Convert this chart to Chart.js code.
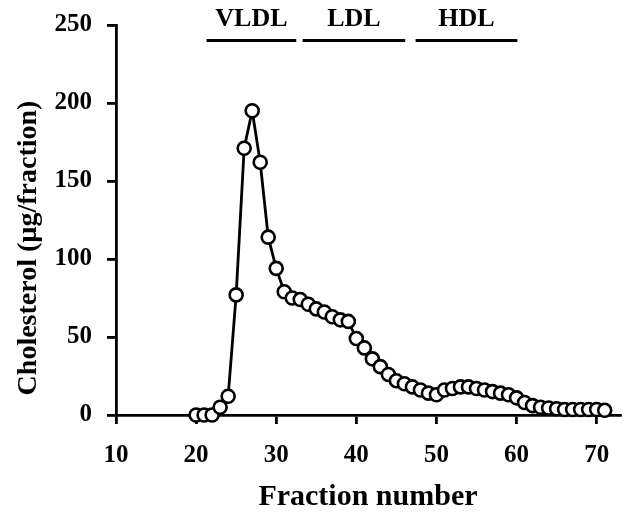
<!DOCTYPE html>
<html>
<head>
<meta charset="utf-8">
<script src="https://cdn.jsdelivr.net/npm/chart.js@4/dist/chart.umd.min.js"></script>
<style>
  body { margin: 0; background: #fff; }
  #wrap { width: 629px; height: 514px; }
</style>
</head>
<body>
<div id="wrap"><canvas id="cholChart" width="629" height="514"></canvas></div>
<script>
// fraction numbers and cholesterol per fraction (ug/fraction)
let fractions = [20, 21, 22, 23, 24, 25, 26, 27, 28, 29, 30, 31, 32, 33, 34, 35, 36, 37, 38, 39,
  40, 41, 42, 43, 44, 45, 46, 47, 48, 49, 50, 51, 52, 53, 54, 55, 56, 57, 58, 59,
  60, 61, 62, 63, 64, 65, 66, 67, 68, 69, 70, 71];
let cholesterol = [0, 0, 0, 5, 12, 77, 171, 195, 162, 114, 94, 79, 75, 74, 71, 68, 66, 63, 61, 60,
  49, 43, 36, 31, 26, 22, 20, 18, 16, 14, 13, 16, 17, 18, 18, 17, 16, 15, 14, 13,
  11, 8, 6, 5, 4.5, 4, 3.5, 3.5, 3.5, 3.5, 3.5, 3];

let xTicks = [10, 20, 30, 40, 50, 60, 70];
let yTicks = [0, 50, 100, 150, 200, 250];

// lipoprotein bands shown above the curve (in fraction numbers)
let bandNames = ["VLDL", "LDL", "HDL"];
let bandStart = [21.3, 33.3, 47.4];
let bandEnd = [32.5, 46.1, 60.1];
let bandLevel = 240;

let serif = "'Liberation Serif', 'Times New Roman', serif";
Chart.defaults.color = "#000";

// draws the bands and the rotated y title
const extras = {
  id: "extras",
  afterDraw(chart) {
    let ctx = chart.ctx;
    let xs = chart.scales.x;
    let ys = chart.scales.y;
    ctx.save();
    ctx.strokeStyle = "#000";
    ctx.fillStyle = "#000";
    ctx.lineWidth = 3;
    ctx.font = "bold 26px " + serif;
    ctx.textAlign = "center";
    ctx.textBaseline = "middle";
    bandNames.forEach((name, i) => {
      let x1 = xs.getPixelForValue(bandStart[i]);
      let x2 = xs.getPixelForValue(bandEnd[i]);
      let y = ys.getPixelForValue(bandLevel);
      ctx.beginPath();
      ctx.moveTo(x1, y);
      ctx.lineTo(x2, y);
      ctx.stroke();
      ctx.fillText(name, (x1 + x2) / 2, y - 21);
    });
    ctx.translate(29, 248);
    ctx.rotate(-Math.PI / 2);
    ctx.font = "bold 28px " + serif;
    ctx.fillText("Cholesterol (\u00b5g/fraction)", 0, 0);
    ctx.restore();
  },
};

let ctx = document.getElementById("cholChart").getContext("2d");
new Chart(ctx, {
  type: "line",
  data: {
    datasets: [
      {
        data: fractions.map((f, i) => ({ x: f, y: cholesterol[i] })),
        borderColor: "#000",
        borderWidth: 2.8,
        pointRadius: 6.5,
        pointBorderWidth: 2.6,
        pointBackgroundColor: "#fff",
        pointBorderColor: "#000",
        tension: 0,
        clip: false,
      },
    ],
  },
  options: {
    responsive: false,
    animation: false,
    layout: { padding: { top: 25, right: 2, left: 0, bottom: 0 } },
    plugins: { legend: { display: false }, tooltip: { enabled: false } },
    scales: {
      x: {
        type: "linear",
        min: 10,
        max: 72.9,
        afterBuildTicks: (axis) => { axis.ticks = xTicks.map((v) => ({ value: v })); },
        afterFit: (axis) => {
          axis.height = 99;
          axis.paddingLeft = 0;
          axis.paddingRight = 0;
        },
        border: { display: true, color: "#000", width: 2.8 },
        grid: { drawOnChartArea: false, drawTicks: true, tickLength: 9, color: "#000", lineWidth: 2.8 },
        ticks: { autoSkip: false, maxRotation: 0, padding: 17, font: { family: serif, size: 25, weight: "bold" } },
        title: {
          display: true,
          text: "Fraction number",
          font: { family: serif, size: 30, weight: "bold", lineHeight: 1 },
          padding: { top: 0, bottom: 2 },
        },
      },
      y: {
        min: 0,
        max: 250,
        afterBuildTicks: (axis) => { axis.ticks = yTicks.map((v) => ({ value: v })); },
        afterFit: (axis) => {
          axis.width = 116;
          axis.paddingTop = 0;
          axis.paddingBottom = 0;
        },
        border: { display: true, color: "#000", width: 2.8 },
        grid: { drawOnChartArea: false, drawTicks: true, tickLength: 9, color: "#000", lineWidth: 2.8 },
        ticks: { autoSkip: false, padding: 15, font: { family: serif, size: 25, weight: "bold" } },
      },
    },
  },
  plugins: [extras],
});
</script>
</body>
</html>
